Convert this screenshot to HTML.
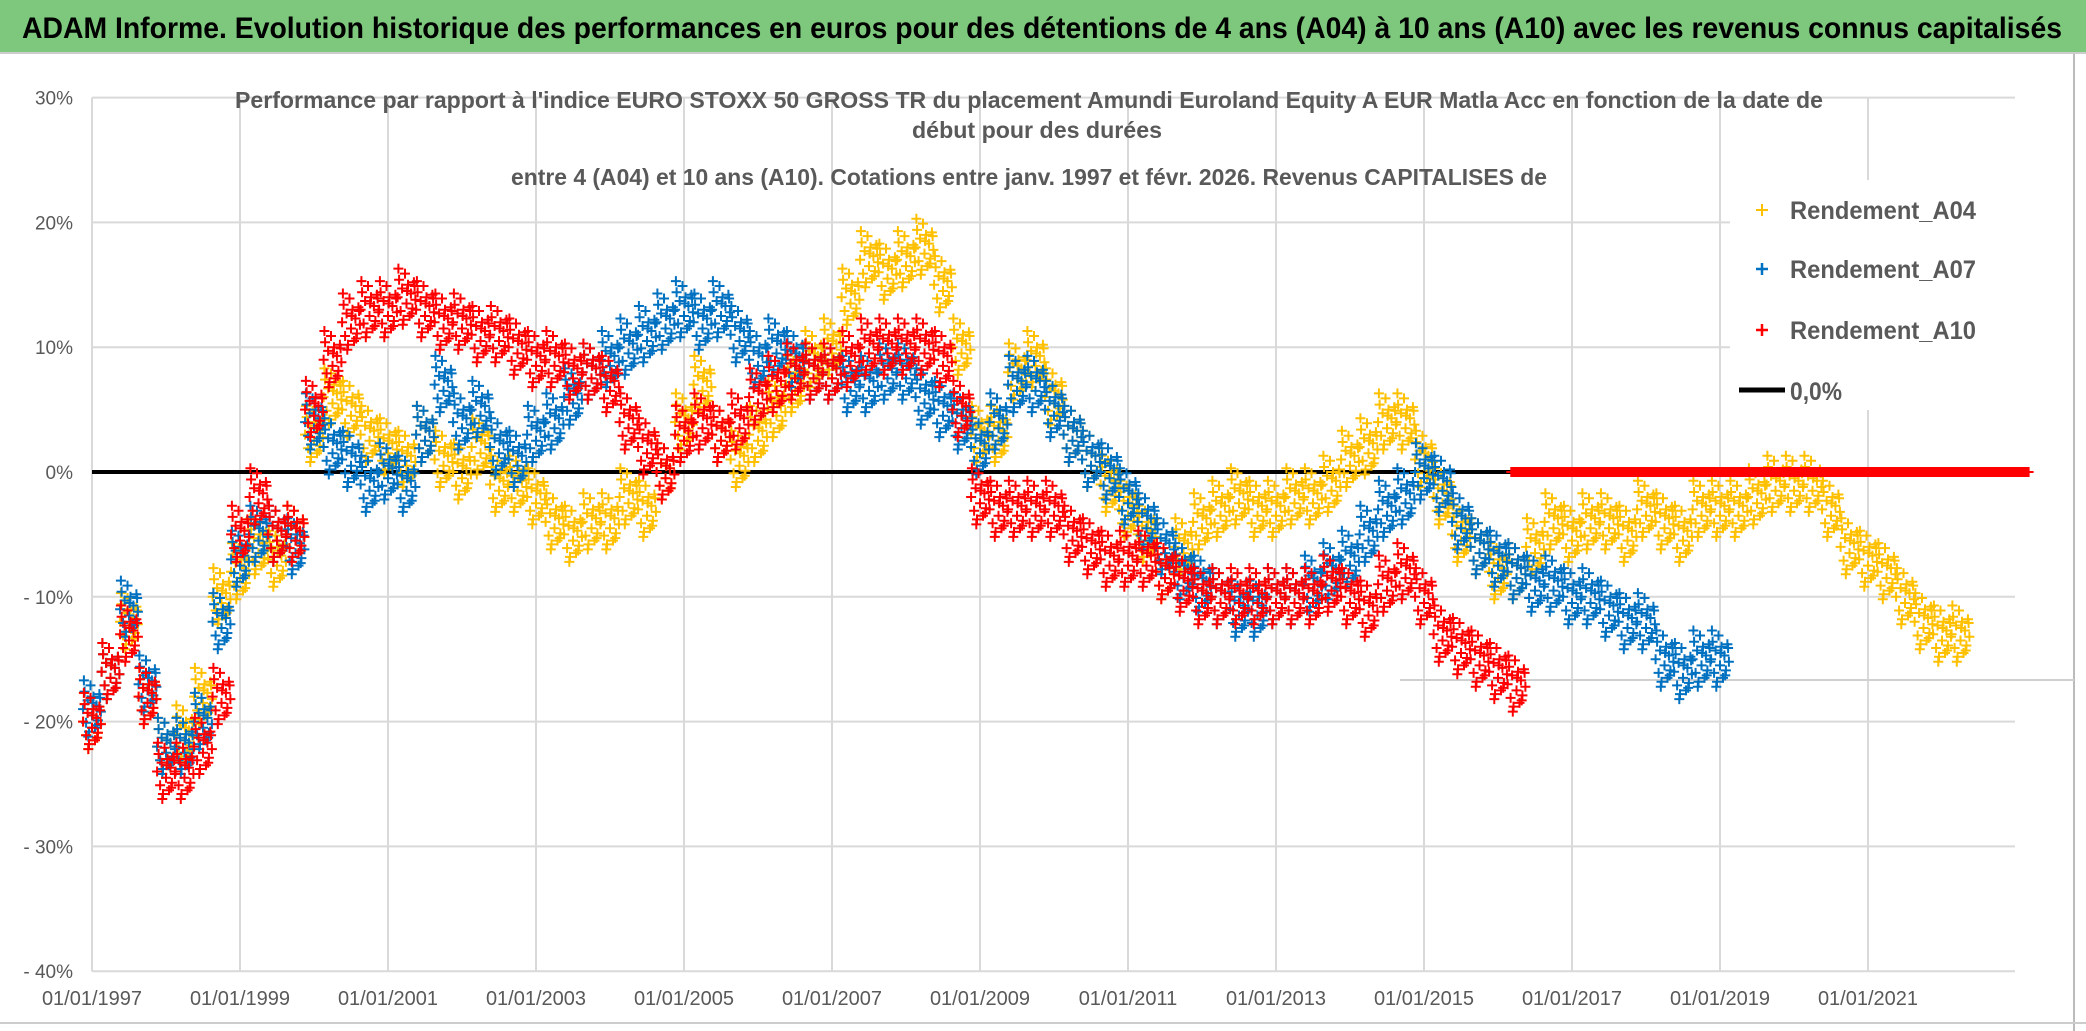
<!DOCTYPE html>
<html><head><meta charset="utf-8"><style>
html,body{margin:0;padding:0;background:#fff}
svg{display:block}
text{font-family:"Liberation Sans",sans-serif}
</style></head><body>
<svg id="chart" width="2086" height="1031" viewBox="0 0 2086 1031" xmlns="http://www.w3.org/2000/svg">
<rect x="0" y="0" width="2086" height="52" fill="#7DC87C"/>
<text x="22" y="38" font-size="30" font-weight="bold" fill="#000" textLength="2040" lengthAdjust="spacingAndGlyphs">ADAM Informe. Evolution historique des performances en euros pour des détentions de 4 ans (A04) à 10 ans (A10) avec les revenus connus capitalisés</text>
<line x1="0" y1="53" x2="2086" y2="53" stroke="#ccc" stroke-width="2"/>
<line x1="2074" y1="54" x2="2074" y2="1031" stroke="#bbb" stroke-width="2"/>
<line x1="0" y1="1023" x2="2086" y2="1023" stroke="#ccc" stroke-width="2"/>
<g id="grid"></g>
<g id="axes"></g>
<g id="marks"></g>
<g fill="#595959" font-weight="bold" font-size="23">
<rect x="230" y="84" width="1600" height="110" fill="#fff" opacity="0"/>
<text x="235" y="108" textLength="1588" lengthAdjust="spacingAndGlyphs">Performance par rapport à l'indice EURO STOXX 50 GROSS TR  du placement Amundi Euroland Equity A EUR Matla Acc en fonction de la date de</text>
<text x="912" y="138" textLength="250" lengthAdjust="spacingAndGlyphs">début pour des durées</text>
<text x="511" y="185" textLength="1036" lengthAdjust="spacingAndGlyphs">entre 4 (A04) et 10 ans (A10). Cotations entre janv. 1997 et févr. 2026. Revenus CAPITALISES de</text>
</g>
<g fill="#595959" font-size="25" font-weight="bold">
<rect x="1730" y="180" width="300" height="230" fill="#fff"/>
<g><path d="M1756 210h12M1762 204v12" stroke="#FFC000" stroke-width="2"/><text x="1790" y="219" textLength="186" lengthAdjust="spacingAndGlyphs">Rendement_A04</text></g>
<g><path d="M1756 269h12M1762 263v12" stroke="#0070C0" stroke-width="2.5"/><text x="1790" y="278" textLength="186" lengthAdjust="spacingAndGlyphs">Rendement_A07</text></g>
<g><path d="M1756 330h12M1762 324v12" stroke="#FF0000" stroke-width="2.5"/><text x="1790" y="339" textLength="186" lengthAdjust="spacingAndGlyphs">Rendement_A10</text></g>
<g><line x1="1739" y1="390" x2="1785" y2="390" stroke="#000" stroke-width="5"/><text x="1790" y="400" textLength="52" lengthAdjust="spacingAndGlyphs">0,0%</text></g>
</g>
</svg>
<script>
const yTicks = [30, 20, 10, 0, -10, -20, -30, -40];
const yTickLabels = ["30%", "20%", "10%", "0%", "- 10%", "- 20%", "- 30%", "- 40%"];
const xTickYears = [1997, 1999, 2001, 2003, 2005, 2007, 2009, 2011, 2013, 2015, 2017, 2019, 2021];
const xTickLabels = ["01/01/1997","01/01/1999","01/01/2001","01/01/2003","01/01/2005","01/01/2007","01/01/2009","01/01/2011","01/01/2013","01/01/2015","01/01/2017","01/01/2019","01/01/2021"];
const startYear = 1997;
const stepYears = 0.25;
const a04Values = [-20,-16,-12,-18,-22,-21,-18,-10,-8,-6,-7,-5,3,6,5,3,2,1,3,1,0,2,-1,-1,-2,-4,-5,-4,-4,-2,-3,0,4,7,3,1,3,5,7,9,10,14,17,16,17,18,15,10,3,3,8,9,6,3,1,-1,-3,-5,-8,-6,-4,-3,-2,-3,-3,-2,-2,-1,1,2,4,4,1,-2,-5,-6,-8,-8,-6,-4,-5,-4,-4,-5,-3,-4,-5,-3,-3,-3,-2,-1,-1,-1,-3,-6,-7,-8,-10,-12,-13,-13];
const a07Values = [-19,-16,-11,-17,-22,-22,-20,-12,-7,-5,-5,-6,4,2,1,-1,0,-1,3,7,4,5,2,1,3,4,6,8,9,10,11,12,13,12,13,11,9,10,9,8,8,7,7,8,8,6,5,4,2,4,7,7,5,3,1,0,-2,-4,-6,-8,-9,-10,-11,-11,-10,-10,-9,-8,-7,-5,-3,-2,0,-1,-4,-6,-7,-8,-9,-9,-10,-10,-11,-12,-12,-15,-16,-15,-15];
const a10Values = [-20,-16,-13,-18,-24,-24,-22,-18,-5,-2,-5,-5,5,9,12,13,13,14,13,12,12,11,11,10,9,9,8,8,7,4,2,0,3,4,3,4,6,7,8,8,8,9,10,10,10,10,9,5,-2,-3,-3,-3,-3,-5,-6,-7,-7,-7,-8,-9,-10,-10,-10,-10,-10,-10,-10,-9,-10,-11,-9,-8,-10,-13,-14,-15,-16,-17];
const a10FlatStart = 2016.3;
const a10FlatValues = [0,0,0,0,0,0,0,0,0,0,0,0,0,0,0,0,0,0,0,0,0,0,0,0,0,0,0,0];

const X0 = 92, PXY = 74, Y0 = 472, PXP = 12.48;
const xs = y => X0 + (y - 1997) * PXY;
const ys = v => Y0 - v * PXP;
const NS = "http://www.w3.org/2000/svg";
const grid = document.getElementById('grid');
const axes = document.getElementById('axes');
const marks = document.getElementById('marks');
function mk(tag, attrs, parent){const e=document.createElementNS(NS,tag);for(const k in attrs)e.setAttribute(k,attrs[k]);parent.appendChild(e);return e;}

yTicks.forEach((t,i)=>{
  const l = mk('line',{x1:X0,x2:2015,y1:ys(t),y2:ys(t),stroke:'#d9d9d9','stroke-width':2},grid);
  
  
  const tx = mk('text',{x:73,y:ys(t)+7,'text-anchor':'end','font-size':19,fill:'#595959'},axes);
  tx.textContent = yTickLabels[i];
  
  
});
xTickYears.forEach((yr,i)=>{
  const l = mk('line',{x1:xs(yr),x2:xs(yr),y1:ys(30),y2:ys(-40),stroke:'#d9d9d9','stroke-width':2},grid);
  
  
  const tx = mk('text',{x:xs(yr),y:1005,'text-anchor':'middle','font-size':20,fill:'#595959'},axes);
  tx.textContent = xTickLabels[i];
  
  
});
const extra = mk('line',{x1:1400,x2:2074,y1:680,y2:680,stroke:'#d0d0d0','stroke-width':2},grid);



const zero = mk('line',{x1:X0,x2:2015,y1:ys(0),y2:ys(0),stroke:'#000','stroke-width':4},marks);



const jdx = [-0.12,-0.1,-0.08,-0.06,-0.04,-0.02,0,0.02,0.04,0.06,0.08,0.1,0.12,-0.11,-0.05,0.01,0.07,0.11];
const jdy = [0,1.4,-1.1,0.7,-1.8,1.9,-0.5,1,-1.5,0.3,-0.9,1.2,-0.2,2.3,-2.2,0.5,-1.3,0.9];
function drawSeries(vals, start, color, name, jitter){
  const g = mk('g',{stroke:color,'stroke-width':2},marks);
  
  
  let d='';
  vals.forEach((v,i)=>{
    const yr = start + i*stepYears;
    for(let k=0;k<jdx.length;k++){
      const cx = xs(yr + jdx[k]), cy = ys(v + (jitter ? jdy[k] : 0));
      d += `M${(cx-5).toFixed(1)} ${cy.toFixed(1)}h10M${cx.toFixed(1)} ${(cy-5).toFixed(1)}v10`;
    }
  });
  const p = mk('path',{d:d,fill:'none'},g);
  
  
}
drawSeries(a04Values, startYear, '#FFC000', 'series-a04', true);
drawSeries(a07Values, startYear, '#0070C0', 'series-a07', true);
drawSeries(a10Values, startYear, '#FF0000', 'series-a10', true);
drawSeries(a10FlatValues, a10FlatStart, '#FF0000', 'series-a10-flat', false);
</script>
</body></html>
